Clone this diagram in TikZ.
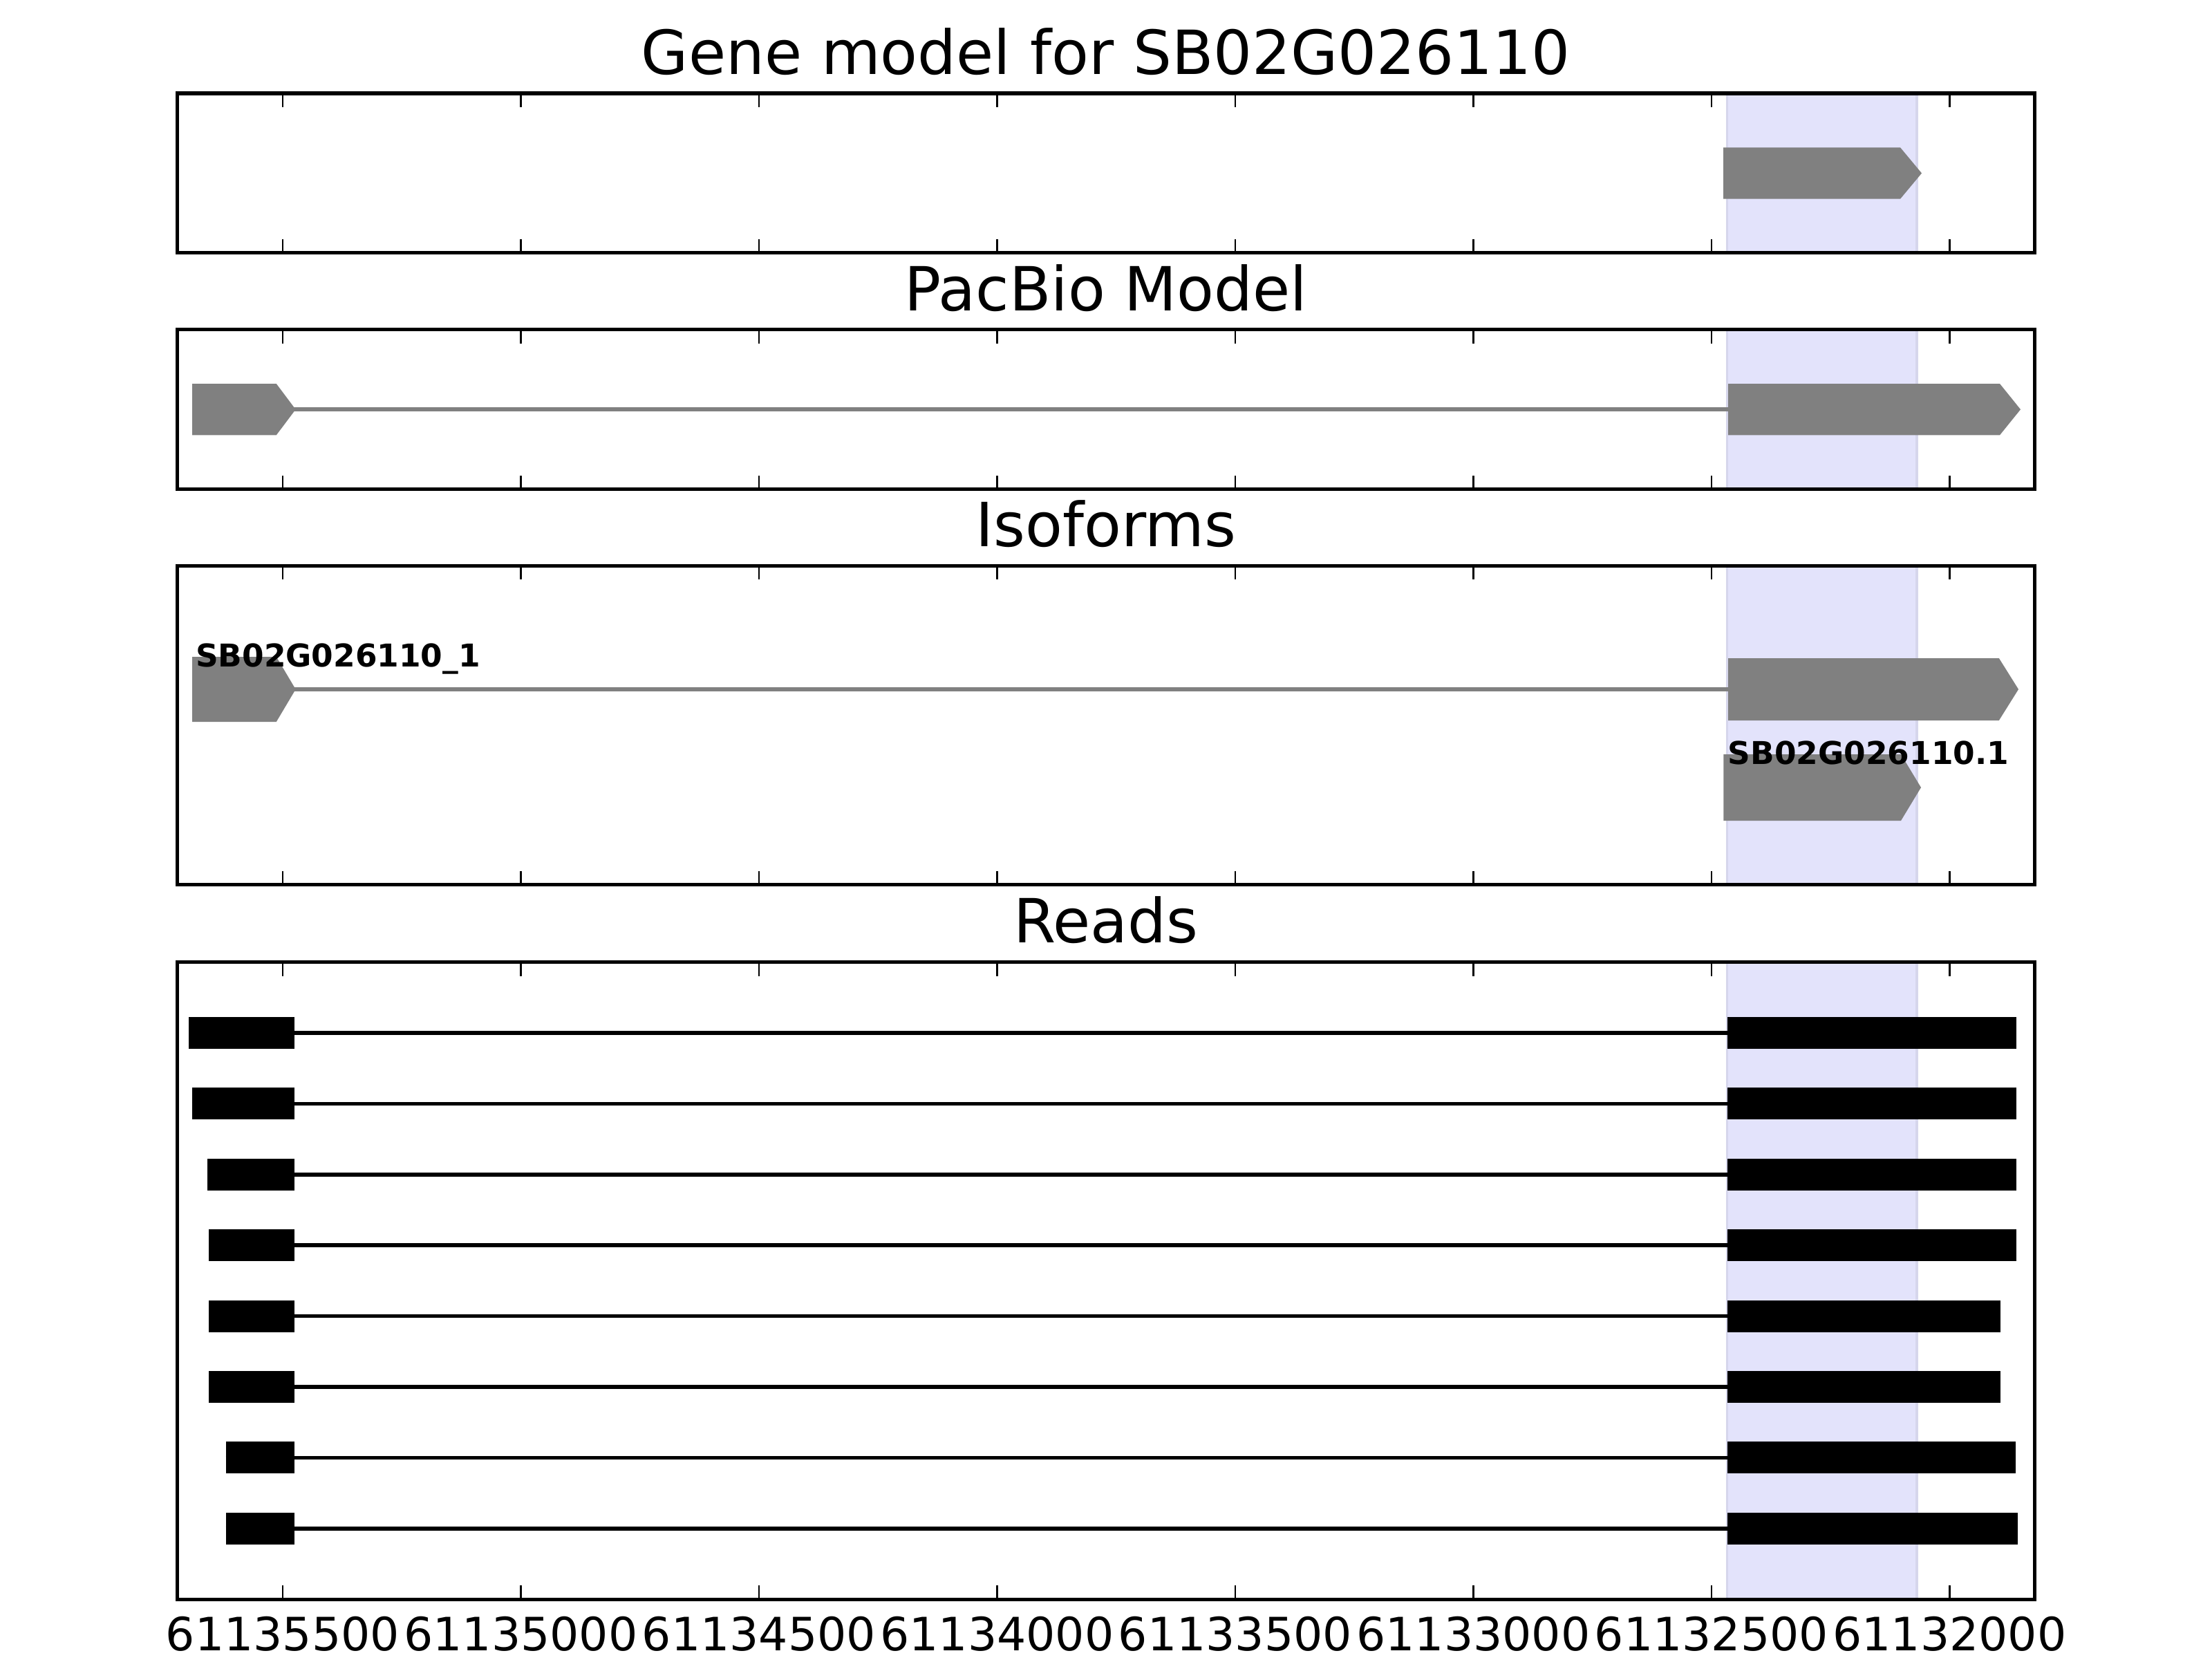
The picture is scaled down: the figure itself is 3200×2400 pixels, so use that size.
\documentclass[tikz,border=0pt]{standalone}
\usepackage{fontspec}
\setmainfont{DejaVu Sans}
\definecolor{exongray}{RGB}{128,128,128}
\definecolor{spanfill}{RGB}{227,227,251}
\definecolor{spanedge}{RGB}{214,214,236}
\newcommand\exonarrow[6]{\fill[exon] (#1,#4) -- (#2,#4) -- (#3,#6) -- (#2,#5) -- (#1,#5) -- cycle;}
\begin{document}
\begin{tikzpicture}[x=0.00635cm,y=-0.00635cm,
  panel/.style={draw=black,line width=1pt},
  spanbox/.style={fill=spanfill,draw=spanedge,line width=0.6pt},
  exon/.style={fill=exongray},
  intron/.style={draw=exongray,line width=1pt},
  readblk/.style={fill=black},
  readline/.style={draw=black,line width=1pt},
  tck/.style={draw=black,line width=0.5pt},
  ttl/.style={font=\fontsize{15.9}{18}\selectfont,anchor=base,inner sep=0pt},
  ticklbl/.style={font=\fontsize{12}{14}\selectfont,anchor=base,inner sep=0pt},
  isolbl/.style={font=\bfseries\fontsize{8.2}{10}\selectfont,anchor=base west,inner sep=0pt}]
\fill[white] (0,0) rectangle (3200,2400);
\useasboundingbox (0,0) rectangle (3200,2400);

% shaded spans
\foreach \t/\b in {135/365.7, 476.7/707.7, 818.3/1279.6, 1391.7/2313.3}{
  \filldraw[spanbox] (2498.7,\t) rectangle (2773.1,\b);
}

% Panel 1: gene model
\exonarrow{2493}{2749}{2780}{213.3}{287.7}{250.5}

% Panel 2: PacBio model
\draw[intron] (420,592.2) -- (2502,592.2);
\exonarrow{278}{399.8}{427.7}{555}{629.3}{592.2}
\exonarrow{2500}{2893}{2923}{555}{629.3}{592.2}

% Panel 3: isoforms
\draw[intron] (420,997) -- (2502,997);
\exonarrow{278}{399.8}{427.7}{950}{1044}{997}
\exonarrow{2500}{2891.8}{2920}{952}{1042}{997}
\exonarrow{2493.4}{2750}{2779}{1091}{1187}{1139}
\node[isolbl] (iso1) at (282,964) {SB02G026110\_1};
\node[isolbl] (iso2) at (2498.7,1105) {SB02G026110.1};

% Panel 4: reads
\foreach \i/\ls/\re in {1/273.3/2916.6, 2/277.6/2916.6, 3/300.3/2916.6, 4/302/2916.6,
                        5/302/2894, 6/302/2894, 7/326.5/2916, 8/326.5/2919}{
  \pgfmathsetmacro\yc{1494+102.4*(\i-1)}
  \draw[readline] (\ls,\yc) -- (\re,\yc);
  \fill[readblk] (\ls,\yc-23) rectangle (425.8,\yc+23);
  \fill[readblk] (2499,\yc-23) rectangle (\re,\yc+23);
}

% ticks
\foreach \t/\b in {135/365.7, 476.7/707.7, 818.3/1279.6, 1391.7/2313.3}{
  \foreach \i in {0,...,7}{
    \pgfmathsetmacro\tx{409+344.5*\i}
    \draw[tck] (\tx,\t) -- (\tx,\t+20);
    \draw[tck] (\tx,\b) -- (\tx,\b-20);
  }
}

% panel borders
\draw[panel] (256.3,135) rectangle (2943.4,365.7);
\draw[panel] (256.3,476.7) rectangle (2943.4,707.7);
\draw[panel] (256.3,818.3) rectangle (2943.4,1279.6);
\draw[panel] (256.3,1391.7) rectangle (2943.4,2313.3);

% titles
\node[ttl] (t1) at (1600,107.3) {Gene model for SB02G026110};
\node[ttl] (t2) at (1600,449.3) {PacBio Model};
\node[ttl] (t3) at (1600,790.8) {Isoforms};
\node[ttl] (t4) at (1600,1363.3) {Reads};

% tick labels
\foreach \i/\lab in {0/61135500, 1/61135000, 2/61134500, 3/61134000,
                     4/61133500, 5/61133000, 6/61132500, 7/61132000}{
  \pgfmathsetmacro\tx{409+344.5*\i}
  \node[ticklbl] (lab\i) at (\tx,2387) {\lab};
}
\end{tikzpicture}
\end{document}
